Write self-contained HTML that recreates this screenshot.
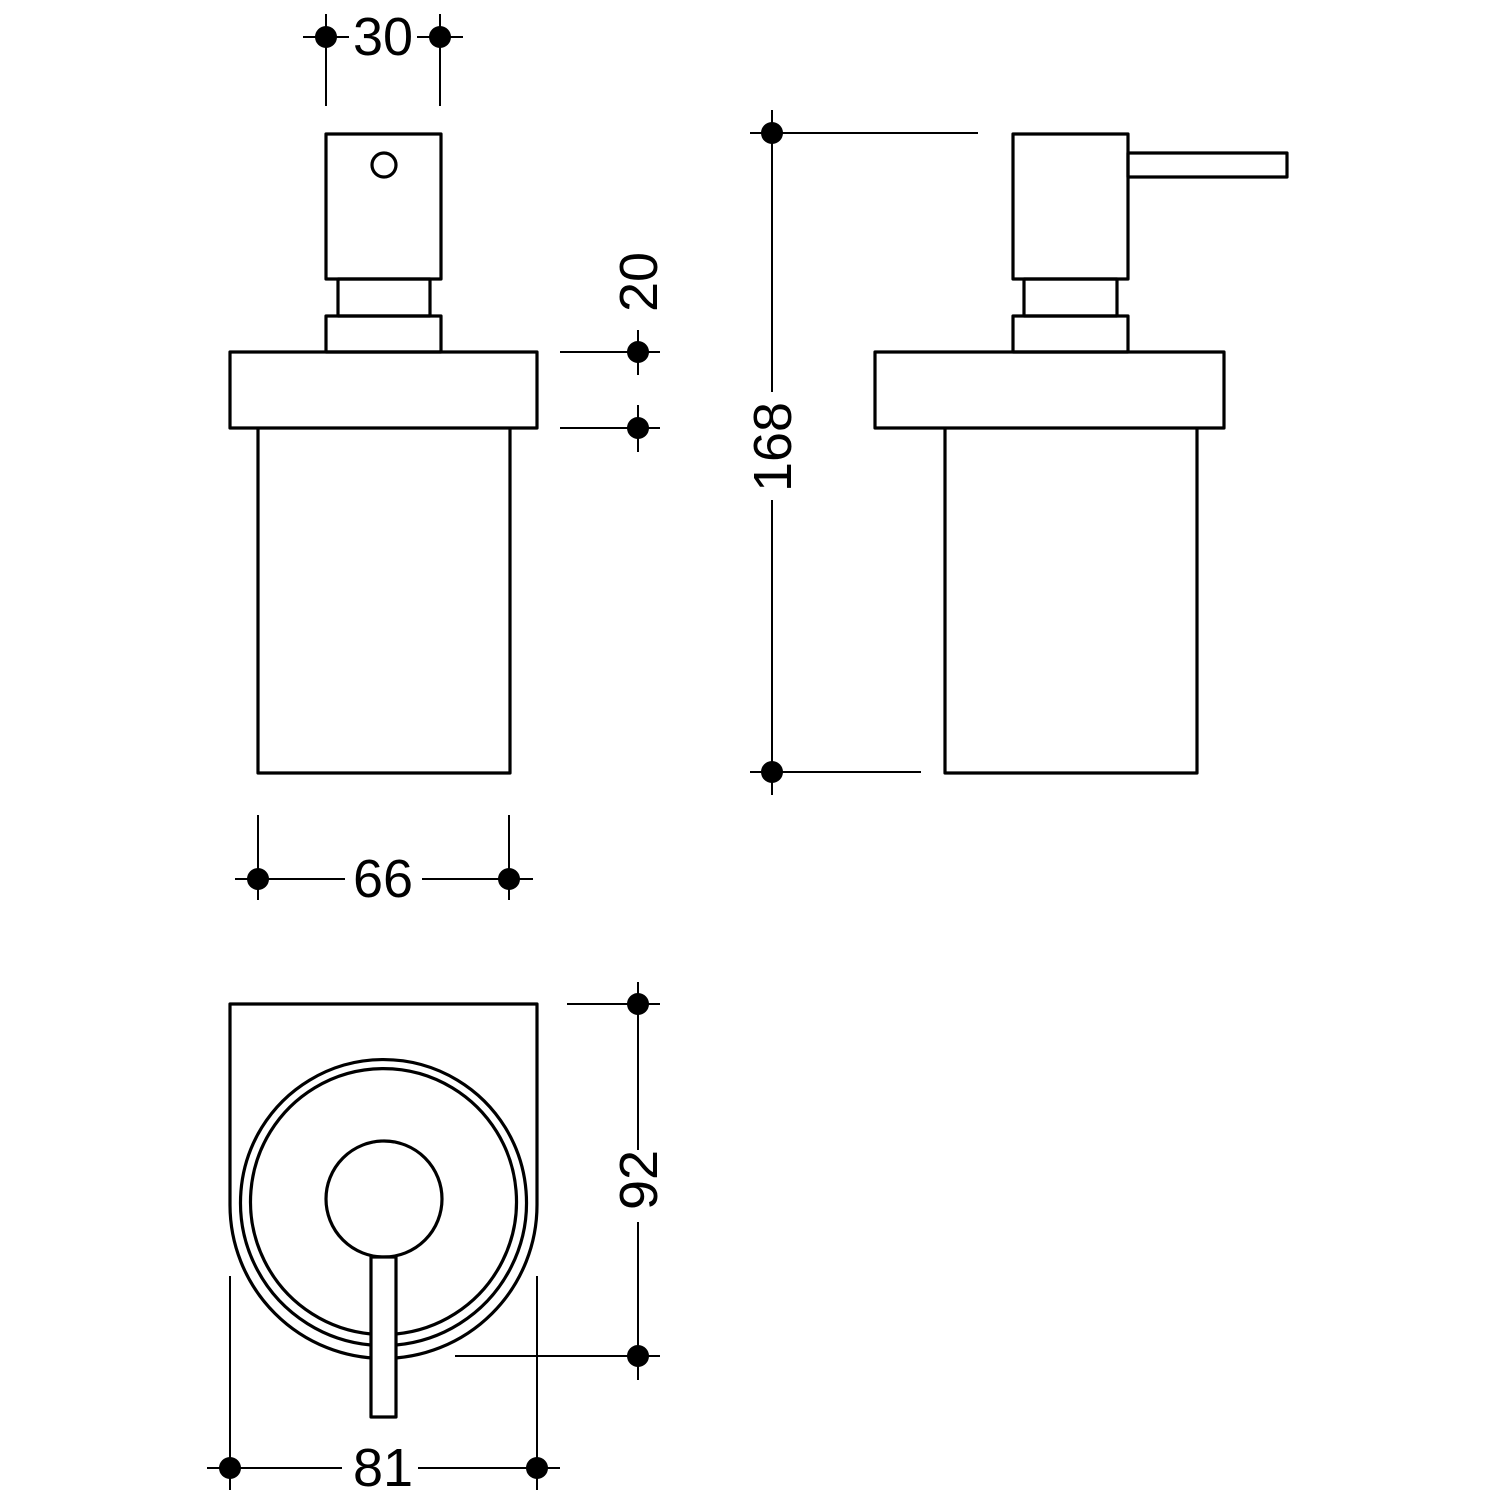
<!DOCTYPE html>
<html><head><meta charset="utf-8"><style>html,body{margin:0;background:#fff}svg{display:block}</style></head><body>
<svg width="1500" height="1500" viewBox="0 0 1500 1500" xmlns="http://www.w3.org/2000/svg">
<g fill="none" stroke="#000" stroke-width="3.2" stroke-linejoin="round">
<rect x="326" y="134" width="115" height="145"/>
<circle cx="384" cy="165" r="12"/>
<rect x="338" y="279" width="92" height="37"/>
<rect x="326" y="316" width="115" height="36"/>
<rect x="230" y="352" width="307" height="76"/>
<path d="M258 428 V773 H510 V428"/>
<rect x="1013" y="134" width="115" height="145"/>
<rect x="1128" y="153" width="159" height="24"/>
<rect x="1024" y="279" width="93" height="37"/>
<rect x="1013" y="316" width="115" height="36"/>
<rect x="875" y="352" width="349" height="76"/>
<path d="M945 428 V773 H1197 V428"/>
<path d="M230 1004 H537 V1205 A153 153 0 0 1 230 1205 Z"/>
<path d="M371 1345 A143 143 0 1 1 396 1345"/>
<path d="M371 1334 A133 133 0 1 1 396 1334"/>
<circle cx="384" cy="1199" r="58"/>
<rect x="371" y="1257" width="25" height="160" fill="#fff"/>
</g>
<g fill="none" stroke="#000" stroke-width="2">
<line x1="326" y1="14" x2="326" y2="106"/><line x1="440" y1="14" x2="440" y2="106"/>
<line x1="303" y1="37" x2="349" y2="37"/><line x1="417" y1="37" x2="463" y2="37"/>
<line x1="560" y1="352" x2="660" y2="352"/><line x1="560" y1="428" x2="660" y2="428"/>
<line x1="638" y1="330" x2="638" y2="375"/><line x1="638" y1="405" x2="638" y2="452"/>
<line x1="750" y1="133" x2="978" y2="133"/><line x1="750" y1="772" x2="921" y2="772"/>
<line x1="772" y1="110" x2="772" y2="392"/><line x1="772" y1="500" x2="772" y2="795"/>
<line x1="258" y1="815" x2="258" y2="900"/><line x1="509" y1="815" x2="509" y2="900"/>
<line x1="235" y1="879" x2="345" y2="879"/><line x1="422" y1="879" x2="533" y2="879"/>
<line x1="567" y1="1004" x2="660" y2="1004"/><line x1="455" y1="1356" x2="660" y2="1356"/>
<line x1="638" y1="982" x2="638" y2="1150"/><line x1="638" y1="1222" x2="638" y2="1380"/>
<line x1="230" y1="1276" x2="230" y2="1490"/><line x1="537" y1="1276" x2="537" y2="1490"/>
<line x1="207" y1="1468" x2="342" y2="1468"/><line x1="418" y1="1468" x2="560" y2="1468"/>
</g>
<g fill="#000">
<circle cx="326" cy="37" r="11"/><circle cx="440" cy="37" r="11"/>
<circle cx="638" cy="352" r="11"/><circle cx="638" cy="428" r="11"/>
<circle cx="772" cy="133" r="11"/><circle cx="772" cy="772" r="11"/>
<circle cx="258" cy="879" r="11"/><circle cx="509" cy="879" r="11"/>
<circle cx="638" cy="1004" r="11"/><circle cx="638" cy="1356" r="11"/>
<circle cx="230" cy="1468" r="11"/><circle cx="537" cy="1468" r="11"/>
</g>
<g font-family="Liberation Sans, sans-serif" font-size="54" text-anchor="middle" fill="#000">
<text x="383" y="55">30</text>
<text x="383" y="897">66</text>
<text x="383" y="1486">81</text>
<text transform="translate(657,282) rotate(-90)">20</text>
<text transform="translate(791,447) rotate(-90)">168</text>
<text transform="translate(657,1180) rotate(-90)">92</text>
</g>
</svg>
</body></html>
